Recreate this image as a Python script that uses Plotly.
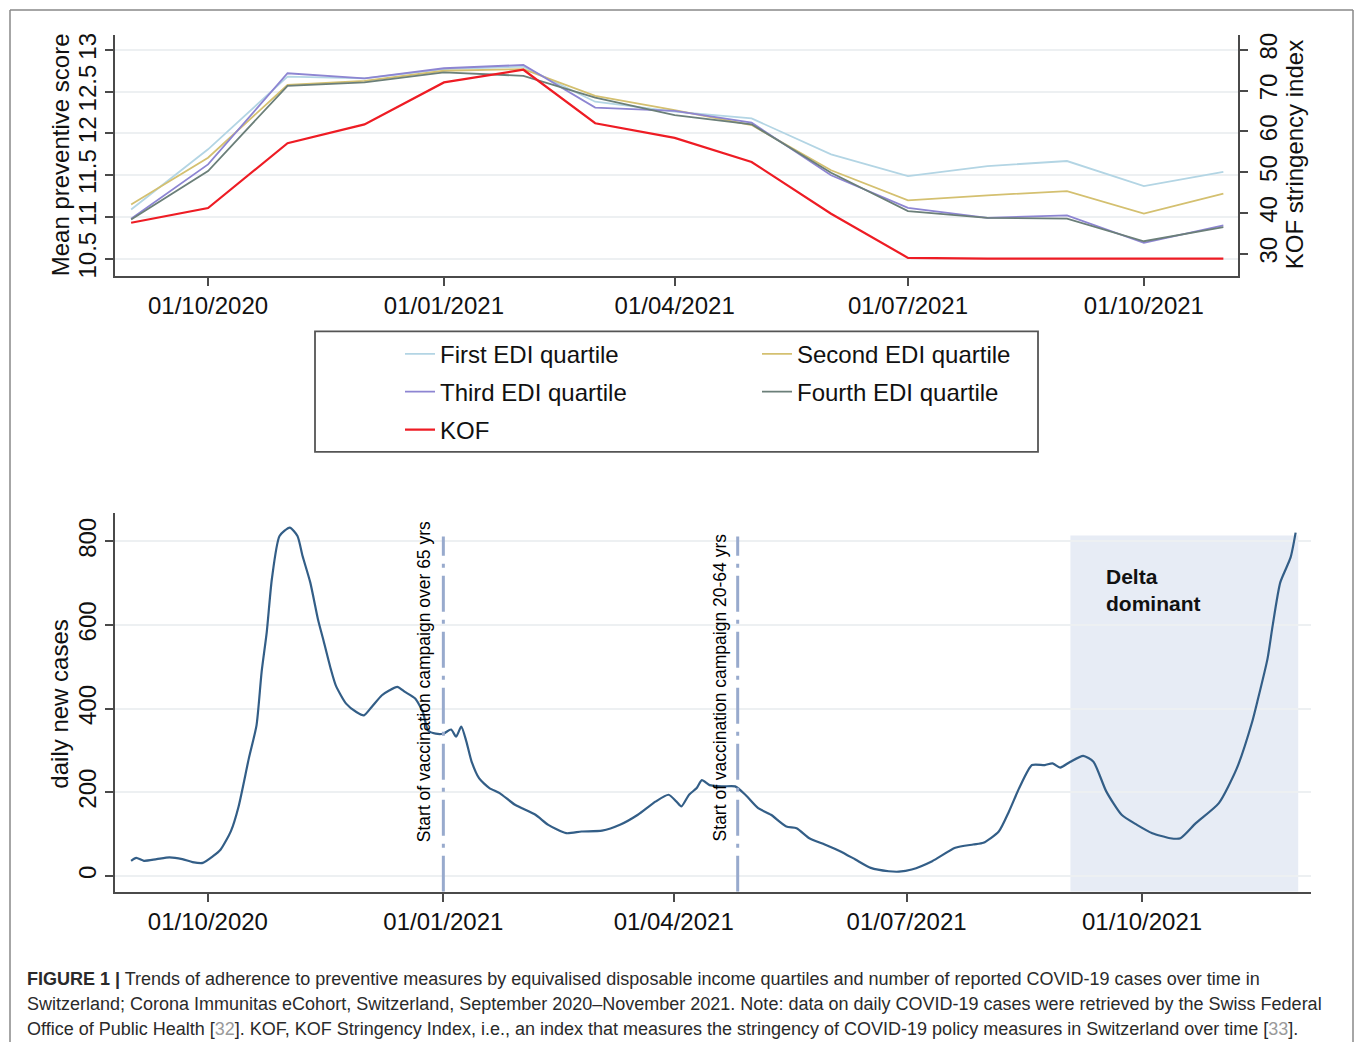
import plotly.graph_objects as go

# ---------------- Data ----------------
months = ['2020-09-01', '2020-10-01', '2020-11-01', '2020-12-01', '2021-01-01',
          '2021-02-01', '2021-03-01', '2021-04-01', '2021-05-01', '2021-06-01',
          '2021-07-01', '2021-08-01', '2021-09-01', '2021-10-01', '2021-11-01']
first_q = [11.09, 11.81, 12.68, 12.66, 12.77, 12.80, 12.38, 12.26, 12.18, 11.75, 11.49, 11.61, 11.67, 11.37, 11.54]
second_q = [11.15, 11.71, 12.58, 12.63, 12.75, 12.77, 12.45, 12.28, 12.10, 11.56, 11.20, 11.26, 11.31, 11.04, 11.28]
third_q = [10.98, 11.63, 12.72, 12.66, 12.78, 12.82, 12.31, 12.27, 12.13, 11.50, 11.11, 10.99, 11.02, 10.69, 10.90]
fourth_q = [10.97, 11.55, 12.57, 12.61, 12.73, 12.69, 12.43, 12.22, 12.11, 11.53, 11.07, 10.99, 10.98, 10.71, 10.88]
kof = [37.6, 41.2, 57.1, 61.7, 72.0, 75.1, 62.0, 58.4, 52.5, 39.8, 29.0, 28.8, 28.8, 28.8, 28.8]

case_dates = ['2020-09-01', '2020-09-03', '2020-09-06', '2020-09-11', '2020-09-16', '2020-09-21',
              '2020-09-25', '2020-09-29', '2020-10-03', '2020-10-06', '2020-10-10', '2020-10-13',
              '2020-10-17', '2020-10-20', '2020-10-22', '2020-10-24', '2020-10-26', '2020-10-29',
              '2020-11-02', '2020-11-05', '2020-11-07', '2020-11-10', '2020-11-13', '2020-11-15',
              '2020-11-18', '2020-11-20', '2020-11-24', '2020-11-28', '2020-12-01', '2020-12-04',
              '2020-12-08', '2020-12-11', '2020-12-14', '2020-12-17', '2020-12-21', '2020-12-24',
              '2020-12-26', '2020-12-29', '2021-01-01', '2021-01-04', '2021-01-06', '2021-01-08',
              '2021-01-10', '2021-01-12', '2021-01-15', '2021-01-19', '2021-01-23', '2021-01-29',
              '2021-02-06', '2021-02-11', '2021-02-18', '2021-02-24', '2021-03-04', '2021-03-11',
              '2021-03-18', '2021-03-25', '2021-03-30', '2021-04-02', '2021-04-04', '2021-04-07',
              '2021-04-10', '2021-04-12', '2021-04-15', '2021-04-20', '2021-04-25', '2021-04-29',
              '2021-05-04', '2021-05-09', '2021-05-15', '2021-05-19', '2021-05-24', '2021-05-30',
              '2021-06-05', '2021-06-11', '2021-06-17', '2021-06-24', '2021-06-28', '2021-07-03',
              '2021-07-11', '2021-07-20', '2021-07-27', '2021-07-31', '2021-08-06', '2021-08-10',
              '2021-08-14', '2021-08-19', '2021-08-24', '2021-08-27', '2021-08-30', '2021-09-03',
              '2021-09-08', '2021-09-12', '2021-09-17', '2021-09-23', '2021-09-29', '2021-10-05',
              '2021-10-12', '2021-10-16', '2021-10-22', '2021-10-31', '2021-11-07', '2021-11-13',
              '2021-11-15', '2021-11-19', '2021-11-21', '2021-11-24', '2021-11-28', '2021-11-30']
daily_cases = [36, 43, 36, 40, 44, 40,
               33, 31, 47, 63, 107, 166,
               281, 360, 488, 583, 710, 813,
               833, 813, 765, 702, 614, 567,
               495, 455, 412, 392, 384, 404,
               432, 444, 452, 440, 424, 392,
               348, 340, 340, 350, 333, 357,
               321, 274, 233, 210, 198, 170,
               146, 122, 102, 106, 108, 122,
               146, 178, 194, 178, 166, 194,
               210, 229, 217, 214, 214, 194,
               162, 146, 118, 114, 90, 75,
               59, 39, 19, 11, 10, 15,
               35, 67, 75, 79, 106, 154,
               210, 265, 265, 269, 259, 273,
               287, 273, 202, 146, 122, 102,
               90, 90, 126, 174, 257, 368,
               416, 519, 598, 702, 761, 821]

vacc_dates = ['2021-01-01', '2021-04-26']
vacc_labels = ['Start of vaccination campaign over 65 yrs', 'Start of vaccination campaign 20-64 yrs']
delta_period = ['2021-09-03', '2021-12-01']

top_ticks = ['2020-10-01', '2021-01-01', '2021-04-01', '2021-07-01', '2021-10-01']
top_ticktext = ['01/10/2020', '01/01/2021', '01/04/2021', '01/07/2021', '01/10/2021']
score_ticks = [10.5, 11, 11.5, 12, 12.5, 13]
score_ticktext = ['10.5', '11', '11.5', '12', '12.5', '13']
kof_ticks = [30, 40, 50, 60, 70, 80]
case_ticks = [0, 200, 400, 600, 800]

# ---------------- Figure ----------------
W, H = 1355, 1045
FONT = 'Arial, Liberation Sans, sans-serif'
AX = '#4a4a4a'

def px(x):
    return x / W

def py(y):
    return 1 - y / H

fig = go.Figure()

series = [
    ('First EDI quartile', first_q, '#b3d5e4', 'legend'),
    ('Second EDI quartile', second_q, '#d4c070', 'legend'),
    ('Third EDI quartile', third_q, '#8d85d2', 'legend2'),
    ('Fourth EDI quartile', fourth_q, '#6b7f79', 'legend2'),
]
for name, vals, col, lg in series:
    fig.add_trace(go.Scatter(x=months, y=vals, name=name, mode='lines',
                             line=dict(color=col, width=1.8), xaxis='x', yaxis='y', legend=lg))
fig.add_trace(go.Scatter(x=months, y=kof, name='KOF', mode='lines',
                         line=dict(color='#ee1c24', width=2.2), xaxis='x', yaxis='y2', legend='legend3'))
fig.add_trace(go.Scatter(x=case_dates, y=daily_cases, name='daily new cases', mode='lines',
                         line=dict(color='#335e87', width=2.2, shape='spline', smoothing=0.6),
                         xaxis='x2', yaxis='y3', showlegend=False))

axis_common = dict(showline=True, linecolor=AX, linewidth=1.8, ticks='outside', ticklen=8,
                   tickcolor=AX, tickwidth=1.5, tickfont=dict(size=24, color='#111', family=FONT),
                   zeroline=False)

fig.update_layout(
    width=W, height=H, margin=dict(l=0, r=0, t=0, b=0),
    paper_bgcolor='white', plot_bgcolor='white',
    font=dict(family=FONT, color='#111'),
    xaxis=dict(domain=[px(115), px(1238)], anchor='y', type='date',
               range=['2020-08-25 17:00', '2021-11-06 17:00'],
               tickvals=top_ticks, ticktext=top_ticktext, showgrid=False, **axis_common),
    yaxis=dict(domain=[py(275), py(33)], anchor='x', range=[10.298, 13.18],
               tickvals=score_ticks, ticktext=score_ticktext, tickangle=-90,
               showgrid=True, gridcolor='#edf0f2', gridwidth=1.5, **axis_common),
    yaxis2=dict(overlaying='y', side='right', anchor='x', range=[24.63, 83.66],
                tickvals=kof_ticks, tickangle=-90, showgrid=False, **axis_common),
    xaxis2=dict(domain=[px(115), px(1311)], anchor='y3', type='date',
                range=['2020-08-25 17:00', '2021-12-06'],
                tickvals=top_ticks, ticktext=top_ticktext, showgrid=False, **axis_common),
    yaxis3=dict(domain=[py(894), py(513)], anchor='x2', range=[-38, 869],
                tickvals=case_ticks, tickangle=-90,
                showgrid=True, gridcolor='#edf0f2', gridwidth=1.5, **axis_common),
)

leg_common = dict(orientation='h', xanchor='left', yanchor='middle', bgcolor='rgba(0,0,0,0)',
                  borderwidth=0, font=dict(size=24, family=FONT, color='#111'),
                  entrywidth=312, entrywidthmode='pixels', itemclick=False, itemdoubleclick=False)
fig.update_layout(
    legend=dict(x=px(400), y=py(354), **leg_common),
    legend2=dict(x=px(400), y=py(392), **leg_common),
    legend3=dict(x=px(400), y=py(430), **leg_common),
)

shapes = []
# legend frame
shapes.append(dict(type='rect', xref='paper', yref='paper', x0=px(315), x1=px(1038), y0=py(452), y1=py(331),
                   line=dict(color='#555', width=1.8), fillcolor='rgba(0,0,0,0)'))
# delta dominant shading
shapes.append(dict(type='rect', xref='x2', yref='y3', x0=delta_period[0], x1=delta_period[1], y0=-38, y1=814,
                   fillcolor='#e7ecf5', line=dict(width=0), layer='below'))
# vaccination start lines
for d in vacc_dates:
    shapes.append(dict(type='line', xref='x2', yref='y3', x0=d, x1=d, y0=-38, y1=812,
                       line=dict(color='#98aacd', width=3, dash='36px,8px,4px,8px')))
# outer frame
for (x0, y0, x1, y1) in [(10, 8, 1353, 8), (10, 8, 10, 1045), (1353, 8, 1353, 1045)]:
    shapes.append(dict(type='line', xref='paper', yref='paper', x0=px(x0), x1=px(x1), y0=py(y0), y1=py(y1),
                       line=dict(color='#888', width=1.5)))
fig.update_layout(shapes=shapes)

ann = []
title_font = dict(size=24, family=FONT, color='#111')
ann.append(dict(text='Mean preventive score', xref='paper', yref='paper', x=px(60), y=py(153),
                xanchor='center', yanchor='middle', textangle=-90, showarrow=False, font=title_font))
ann.append(dict(text='KOF stringency index', xref='paper', yref='paper', x=px(1294), y=py(154),
                xanchor='center', yanchor='middle', textangle=-90, showarrow=False, font=title_font))
ann.append(dict(text='daily new cases', xref='paper', yref='paper', x=px(60), y=py(705),
                xanchor='center', yanchor='middle', textangle=-90, showarrow=False, font=title_font))
for d, lab, yv, shift in zip(vacc_dates, vacc_labels, [464, 450], [-19, -18]):
    ann.append(dict(text=lab, xref='x2', yref='y3', x=d, y=yv, xshift=shift, textangle=-90,
                    xanchor='center', yanchor='middle', showarrow=False,
                    font=dict(size=17.5, family=FONT, color='#000')))
ann.append(dict(text='<b>Delta<br>dominant</b>', xref='x2', yref='y3', x='2021-09-16', y=683,
                xanchor='left', yanchor='middle', align='left', showarrow=False,
                font=dict(size=21, family=FONT, color='#111')))

cap_lines = [
    '<b>FIGURE 1 |</b> Trends of adherence to preventive measures by equivalised disposable income quartiles and number of reported COVID-19 cases over time in',
    'Switzerland; Corona Immunitas eCohort, Switzerland, September 2020\u2013November 2021. Note: data on daily COVID-19 cases were retrieved by the Swiss Federal',
    'Office of Public Health [<span style="color:#9a9a9a">32</span>]. KOF, KOF Stringency Index, i.e., an index that measures the stringency of COVID-19 policy measures in Switzerland over time [<span style="color:#9a9a9a">33</span>].',
]
for i, line in enumerate(cap_lines):
    ann.append(dict(text=line, xref='paper', yref='paper', x=px(25), y=py(982 + 25 * i),
                    xanchor='left', yanchor='middle', showarrow=False, align='left',
                    font=dict(size=18, family=FONT, color='#2a2a2a')))
fig.update_layout(annotations=ann)

fig.write_html('out.html', config={'displayModeBar': False},
               post_script="document.body.style.margin='0px';document.body.style.overflow='hidden';")
